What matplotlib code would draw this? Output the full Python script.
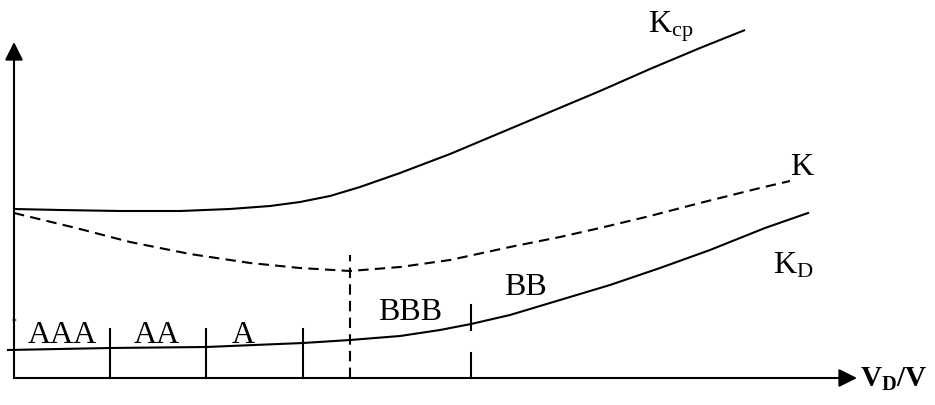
import matplotlib
matplotlib.use("Agg")
import matplotlib.pyplot as plt

plt.rcParams['mathtext.fontset'] = 'custom'
plt.rcParams['mathtext.rm'] = 'Liberation Serif'
plt.rcParams['mathtext.it'] = 'Liberation Serif:italic'
plt.rcParams['mathtext.bf'] = 'Liberation Serif:bold'
plt.rcParams['font.family'] = ['Liberation Serif', 'DejaVu Serif']

# ---- data (schematic units: x along V_D/V, y along coefficient) ----
kcp_x = [0, 46, 106, 166, 216, 256, 286, 316, 346, 386, 436, 486, 536, 586, 636, 686, 731]
kcp_y = [169, 168, 167, 167, 169, 172, 176, 182, 191, 205, 224, 245, 266, 287, 309, 330, 348]

k_x = [0, 62, 116, 176, 236, 286, 336, 386, 436, 496, 546, 586, 636, 686, 746, 776]
k_y = [165, 150, 136, 124, 115, 110, 107, 111, 118, 131, 141, 150, 162, 175, 190, 197]

kd_x = [-6, 96, 192, 289, 336, 386, 426, 457, 496, 546, 596, 646, 696, 751, 794]
kd_y = [28, 30, 31, 35, 38, 42, 48, 54, 63, 78, 93, 110, 128, 150, 165]

zone_bounds = [96, 192, 289]
zone_tick_h = 49
k_min_x = 336
k_min_y = 123
bb_bound_x = 457
bb_tick_segments = [(0, 25), (48, 73)]

zone_labels = ['AAA', 'AA', 'A', 'BBB', 'BB']
zone_label_x = [48, 143, 229, 396, 511]
zone_label_y = [35, 35, 35, 58, 83]

x_axis_end = 843
y_axis_end = 336

fig = plt.figure(figsize=(9.35, 4.05), dpi=100)
ax = fig.add_axes([0, 0, 1, 1])
ax.set_xlim(-14, 921)
ax.set_ylim(-27, 378)
ax.axis('off')

lw = 1.5
# axes with arrows
ax.annotate('', xy=(0, y_axis_end), xytext=(0, 0),
            arrowprops=dict(arrowstyle='-|>,head_length=0.5,head_width=0.25',
                            lw=lw, color='k', mutation_scale=22,
                            shrinkA=0, shrinkB=0))
ax.annotate('', xy=(x_axis_end, 0), xytext=(0, 0),
            arrowprops=dict(arrowstyle='-|>,head_length=0.5,head_width=0.25',
                            lw=lw, color='k', mutation_scale=22,
                            shrinkA=0, shrinkB=0))

# curves
ax.plot(kcp_x, kcp_y, color='k', lw=lw, solid_capstyle='butt')
ax.plot(k_x, k_y, color='k', lw=lw, linestyle=(0, (5, 3)))
ax.plot(kd_x, kd_y, color='k', lw=lw)

# zone ticks
for xb in zone_bounds:
    ax.plot([xb, xb], [0, zone_tick_h], color='k', lw=lw)
ax.plot([k_min_x, k_min_x], [0, k_min_y], color='k', lw=lw, linestyle=(0, (5, 3)))
for y0, y1 in bb_tick_segments:
    ax.plot([bb_bound_x, bb_bound_x], [y0, y1], color='k', lw=lw)

# zone labels
for lab, lx, ly in zip(zone_labels, zone_label_x, zone_label_y):
    ax.text(lx, ly, lab, ha='center', va='baseline', fontsize=23,
            family='Liberation Serif')

# curve labels
ax.text(634, 346, r'K$_{\mathrm{cp}}$', fontsize=23, va='baseline', ha='left')
ax.text(776, 203, 'K', fontsize=23, va='baseline', ha='left')
ax.text(759, 105, r'K$_{\mathrm{D}}$', fontsize=23, va='baseline', ha='left')
ax.text(846, -9, r'$\mathbf{V_{D}/V}$', fontsize=21, va='baseline', ha='left')
ax.text(0, 56, '*', fontsize=7, ha='center', va='center')

fig.savefig('out.png', dpi=100)
